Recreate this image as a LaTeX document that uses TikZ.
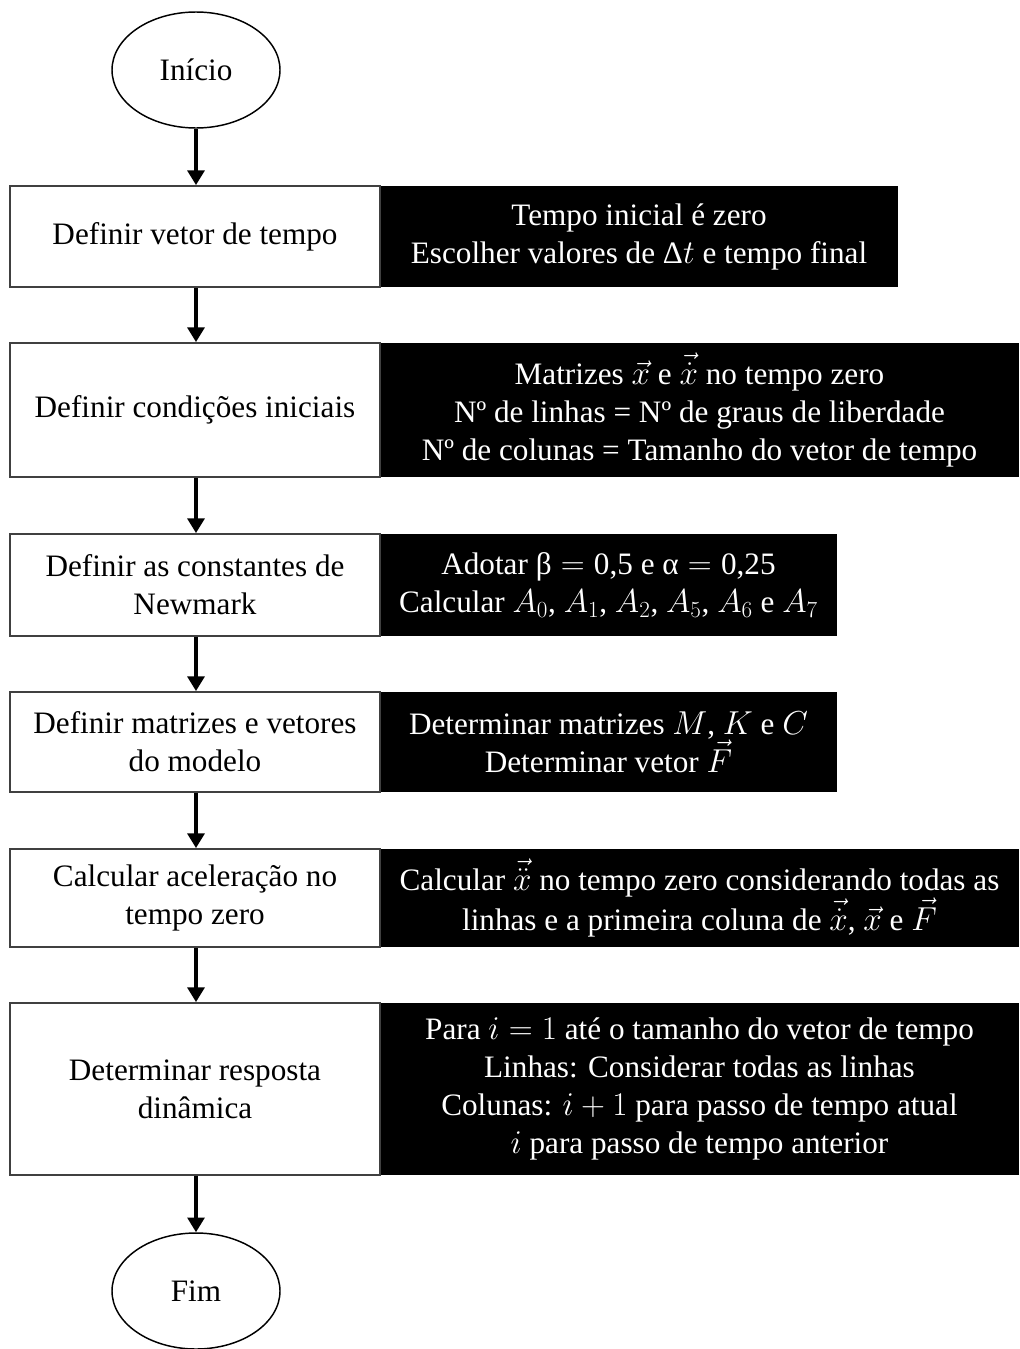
\documentclass[tikz,border=0pt]{standalone}
\usepackage{fontspec}
\setmainfont{Liberation Serif}
\usetikzlibrary{shapes.geometric,arrows.meta}
\begin{document}
\begin{tikzpicture}[x=0.75pt,y=-0.75pt,
  every node/.style={font=\fontsize{23.4}{28.5}\selectfont},
  term/.style={ellipse,draw,line width=1.1pt,minimum width=126pt,minimum height=87pt,inner sep=0pt},
  stepbox/.style={rectangle,draw=black!75,line width=1.3pt,fill=white,minimum width=277.5pt,inner sep=0pt,align=center},
  info/.style={rectangle,fill=black,text=white,inner sep=0pt,align=center},
  flow/.style={line width=3pt,-{Triangle[width=12.5pt,length=11pt]}}]
\useasboundingbox (0,0) rectangle (1020,1349);

\node[term] (start) at (196,70) {Início};

% step 1
\node[info,minimum width=388.5pt,minimum height=75.75pt] (i1) at (639,236.5)
  {Tempo inicial é zero\\Escolher valores de Δ$t$ e tempo final};
\node[stepbox,minimum height=75.75pt] (s1) at (195,236.5) {Definir vetor de tempo};

% step 2
\node[info,minimum width=479.25pt,minimum height=100.5pt] (i2) at (699.5,410)
  {Matrizes $\vec{x}$ e $\vec{\dot{x}}$ no tempo zero\\Nº de linhas = Nº de graus de liberdade\\Nº de colunas = Tamanho do vetor de tempo};
\node[stepbox,minimum height=100.5pt] (s2) at (195,410) {Definir condições iniciais};

% step 3
\node[info,minimum width=342.75pt,minimum height=76.5pt] (i3) at (608.5,585)
  {Adotar β${}={}$0,5 e α${}={}$0,25\\Calcular $A_0$, $A_1$, $A_2$, $A_5$, $A_6$ e $A_7$};
\node[stepbox,minimum height=76.5pt] (s3) at (195,585) {Definir as constantes de\\Newmark};

% step 4
\node[info,minimum width=342.75pt,minimum height=75pt] (i4) at (608.5,742)
  {Determinar matrizes $M$, $K$ e $C$\\Determinar vetor $\vec{F}$};
\node[stepbox,minimum height=75pt] (s4) at (195,742) {Definir matrizes e vetores\\do modelo};

% step 5
\node[info,minimum width=479.25pt,minimum height=73.5pt] (i5) at (699.5,898)
  {Calcular $\vec{\ddot{x}}$ no tempo zero considerando todas as\\linhas e a primeira coluna de $\vec{\dot{x}}$, $\vec{x}$ e $\vec{F}$};
\node[stepbox,minimum height=73.5pt] (s5) at (195,898) {Calcular aceleração no\\tempo zero};

% step 6
\node[info,minimum width=479.25pt,minimum height=129pt] (i6) at (699.5,1089)
  {Para $i=1$ até o tamanho do vetor de tempo\\Linhas: Considerar todas as linhas\\Colunas: $i+1$ para passo de tempo atual\\$i$ para passo de tempo anterior};
\node[stepbox,minimum height=129pt] (s6) at (195,1089) {Determinar resposta\\dinâmica};

\node[term] (stop) at (196,1291) {Fim};

\draw[flow] (start.south) -- (start.south |- s1.north);
\draw[flow] (start.south |- s1.south) -- (start.south |- s2.north);
\draw[flow] (start.south |- s2.south) -- (start.south |- s3.north);
\draw[flow] (start.south |- s3.south) -- (start.south |- s4.north);
\draw[flow] (start.south |- s4.south) -- (start.south |- s5.north);
\draw[flow] (start.south |- s5.south) -- (start.south |- s6.north);
\draw[flow] (start.south |- s6.south) -- (stop.north);
\end{tikzpicture}
\end{document}
